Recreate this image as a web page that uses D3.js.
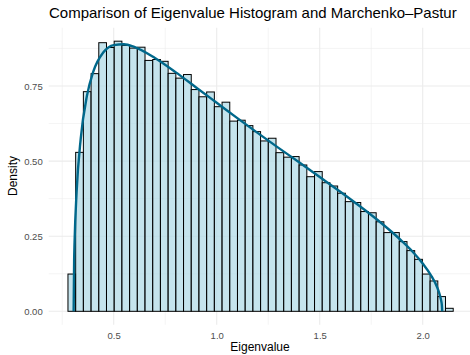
<!DOCTYPE html>
<html>
<head>
<meta charset="utf-8">
<script src="https://cdn.jsdelivr.net/npm/d3@7"></script>
<style>
  body { margin: 0; background: #fff; }
  text { font-family: "Liberation Sans", Arial, Helvetica, sans-serif; }
</style>
</head>
<body>
<svg width="470" height="355"></svg>
<script>
// histogram: 50 bins, densities
var binStart = 0.278;
var binWidth = 0.0374;
var densities = [
  0.124, 0.529, 0.731, 0.791, 0.894, 0.878, 0.899, 0.885, 0.876, 0.879,
  0.835, 0.838, 0.832, 0.792, 0.776, 0.788, 0.738, 0.714, 0.730, 0.681,
  0.696, 0.633, 0.636, 0.618, 0.598, 0.567, 0.576, 0.528, 0.513, 0.515,
  0.487, 0.448, 0.465, 0.428, 0.417, 0.393, 0.365, 0.362, 0.332, 0.328,
  0.298, 0.262, 0.262, 0.232, 0.202, 0.173, 0.124, 0.101, 0.049, 0.010
];

// Marchenko-Pastur curve, sampled points
var curveX = [0.3056, 0.308, 0.31, 0.32, 0.34, 0.37, 0.40, 0.45, 0.50, 0.55, 0.60,
  0.70, 0.80, 0.90, 1.00, 1.10, 1.20, 1.30, 1.40, 1.50, 1.60, 1.70, 1.80,
  1.90, 1.95, 2.00, 2.04, 2.07, 2.085, 2.09, 2.093, 2.0944];
var curveY = [0, 0.169, 0.228, 0.398, 0.575, 0.717, 0.796, 0.862, 0.886, 0.889, 0.880,
  0.843, 0.796, 0.745, 0.694, 0.643, 0.593, 0.544, 0.496, 0.447, 0.398, 0.347, 0.293,
  0.233, 0.199, 0.159, 0.120, 0.080, 0.049, 0.034, 0.019, 0];

var xTicks = [0.5, 1.0, 1.5, 2.0];
var yTicks = [0, 0.25, 0.5, 0.75];

var svg = d3.select("svg");

var pLeft = 48.7, pRight = 472.5, pTop = 27.7, pBottom = 324.8;

var x = d3.scaleLinear().domain([0.1845, 2.2416]).range([pLeft, pRight]);
var y = d3.scaleLinear().domain([-0.0449, 0.9439]).range([pBottom, pTop]);

// grid
var grid = svg.append("g");
var xMinor = [0.25, 0.75, 1.25, 1.75, 2.25];
var yMinor = [0.125, 0.375, 0.625, 0.875];

grid.selectAll(".xminor").data(xMinor).enter().append("line")
  .attr("x1", function (d) { return x(d); }).attr("x2", function (d) { return x(d); })
  .attr("y1", pTop).attr("y2", pBottom)
  .attr("stroke", "#ebebeb").attr("stroke-width", 0.55);
grid.selectAll(".yminor").data(yMinor).enter().append("line")
  .attr("y1", function (d) { return y(d); }).attr("y2", function (d) { return y(d); })
  .attr("x1", pLeft).attr("x2", pRight)
  .attr("stroke", "#ebebeb").attr("stroke-width", 0.55);
grid.selectAll(".xmajor").data(xTicks).enter().append("line")
  .attr("x1", function (d) { return x(d); }).attr("x2", function (d) { return x(d); })
  .attr("y1", pTop).attr("y2", pBottom)
  .attr("stroke", "#ebebeb").attr("stroke-width", 1.1);
grid.selectAll(".ymajor").data(yTicks).enter().append("line")
  .attr("y1", function (d) { return y(d); }).attr("y2", function (d) { return y(d); })
  .attr("x1", pLeft).attr("x2", pRight)
  .attr("stroke", "#ebebeb").attr("stroke-width", 1.1);

// bars
svg.append("g").selectAll("rect").data(densities).enter().append("rect")
  .attr("x", function (d, i) { return x(binStart + i * binWidth); })
  .attr("width", function (d, i) { return x(binStart + (i + 1) * binWidth) - x(binStart + i * binWidth); })
  .attr("y", function (d) { return y(d); })
  .attr("height", function (d) { return y(0) - y(d); })
  .attr("fill", "lightblue").attr("fill-opacity", 0.7)
  .attr("stroke", "black").attr("stroke-width", 1);

// MP curve
var pts = curveX.map(function (v, i) { return [v, curveY[i]]; });
var line = d3.line()
  .x(function (d) { return x(d[0]); })
  .y(function (d) { return y(d[1]); })
  .curve(d3.curveMonotoneX);
svg.append("path").datum(pts)
  .attr("d", line)
  .attr("fill", "none")
  .attr("stroke", "#00688B")
  .attr("stroke-width", 2.4);

// axes
var xAxis = svg.append("g").attr("transform", "translate(0," + pBottom + ")")
  .call(d3.axisBottom(x).tickValues(xTicks).tickFormat(d3.format(".1f")).tickSize(0).tickPadding(7));
var yAxis = svg.append("g").attr("transform", "translate(" + pLeft + ",0)")
  .call(d3.axisLeft(y).tickValues(yTicks).tickFormat(d3.format(".2f")).tickSize(0).tickPadding(6));
[xAxis, yAxis].forEach(function (a) {
  a.select(".domain").remove();
  a.selectAll("text").attr("fill", "#4d4d4d").style("font-size", "9.5px")
    .style("font-family", "'Liberation Sans', Arial, sans-serif");
});

// titles
svg.append("text").attr("x", 49).attr("y", 18)
  .style("font-size", "15px").attr("fill", "#000")
  .text("Comparison of Eigenvalue Histogram and Marchenko–Pastur");
svg.append("text").attr("x", 260).attr("y", 351).attr("text-anchor", "middle")
  .style("font-size", "12px").attr("fill", "#000").text("Eigenvalue");
svg.append("text").attr("transform", "translate(17,176) rotate(-90)").attr("text-anchor", "middle")
  .style("font-size", "12px").attr("fill", "#000").text("Density");
</script>
</body>
</html>
